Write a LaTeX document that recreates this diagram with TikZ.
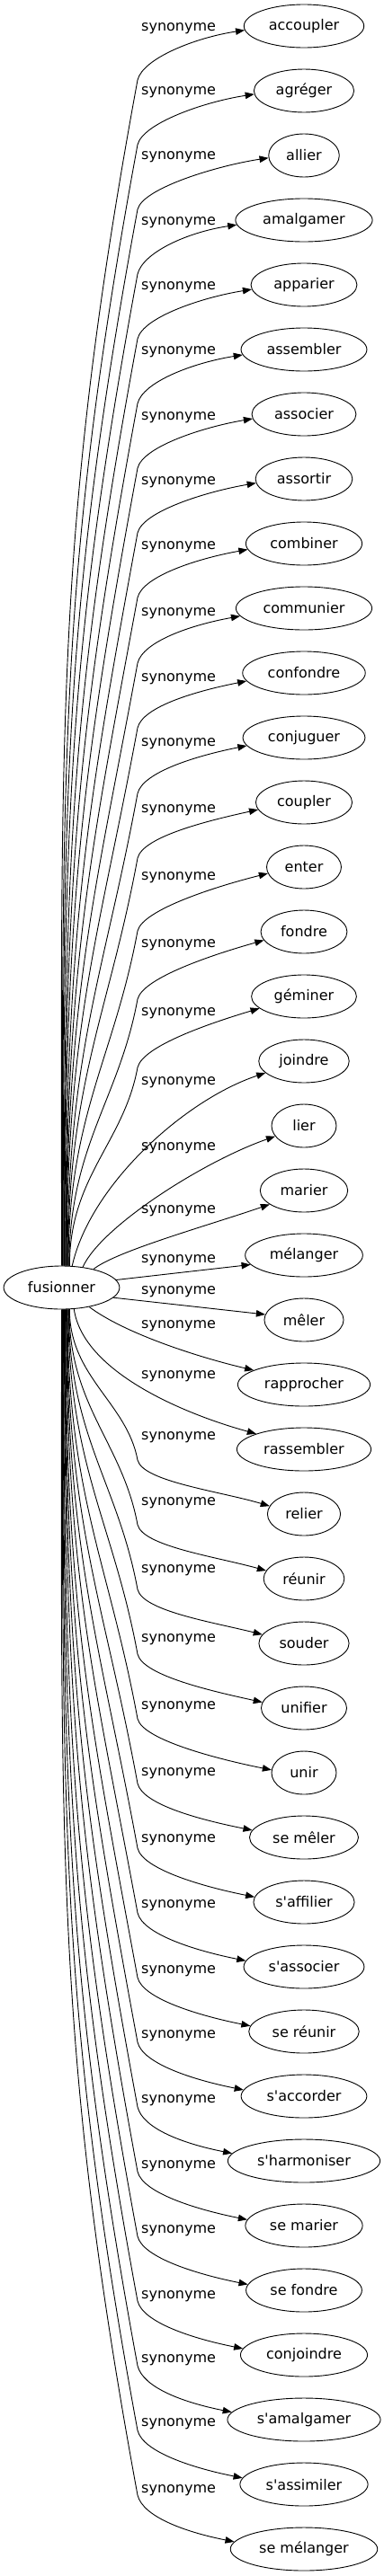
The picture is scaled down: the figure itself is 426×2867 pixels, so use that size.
\documentclass[tikz,border=0pt]{standalone}
\usepackage{fontspec}
\setmainfont{DejaVu Sans}
\usetikzlibrary{arrows.meta,shapes.geometric}
\newcommand\upedge[6]{%
  \pgfmathsetmacro\myd{1409-#3}%
  \draw[edge] (fus.#2) .. controls +(0,{-0.45*\myd}) and +({-0.07*\myd},{0.38*\myd}) .. (153,#3)
     .. controls +(6,-24) and +(-55,{55*#5}) .. (t#1.#4);
  \node[lab] (l#1) at (157,#6) {synonyme};
}
\newcommand\loedge[6]{%
  \pgfmathsetmacro\myd{#3-1457}%
  \draw[edge] (fus.#2) .. controls +(0,{0.45*\myd}) and +({-0.07*\myd},{-0.38*\myd}) .. (153,#3)
     .. controls +(6,24) and +(-55,{-55*#5}) .. (t#1.#4);
  \node[lab] (l#1) at (157,#6) {synonyme};
}
\begin{document}
\begin{tikzpicture}[x=1pt,y=-1pt,
  tnode/.style={draw, ellipse, line width=0.9pt, minimum width=72pt, minimum height=48pt,
                inner xsep=8pt, inner ysep=2pt, font=\fontsize{16}{19}\selectfont},
  lab/.style={anchor=west, inner sep=0pt, font=\fontsize{16}{19}\selectfont},
  edge/.style={line width=0.9pt, -{Triangle[length=10pt,width=7.5pt]}}]
\useasboundingbox (0,0) rectangle (426,2867);
\node[tnode] (fus) at (68.5,1433) {fusionner};
\foreach \w [count=\i] in {accoupler,agréger,allier,amalgamer,apparier,assembler,associer,assortir,
  combiner,communier,confondre,conjuguer,coupler,enter,fondre,géminer,joindre,lier,marier,mélanger,
  mêler,rapprocher,rassembler,relier,réunir,souder,unifier,unir,se mêler,s\textquotesingle affilier,
  s\textquotesingle associer,se réunir,s\textquotesingle accorder,s\textquotesingle harmoniser,se marier,
  se fondre,conjoindre,s\textquotesingle amalgamer,s\textquotesingle assimiler,se mélanger}
  {\node[tnode] (t\i) at (338,{29+72*(\i-1)}) {\w};}

\upedge{1}{90}{89}{184}{0.15}{32}
\upedge{2}{88.7}{161}{184}{0.15}{103}
\upedge{3}{87.4}{233}{184}{0.15}{175}
\upedge{4}{86.1}{305}{184}{0.15}{248}
\upedge{5}{84.8}{377}{185}{0.16}{320}
\upedge{6}{83.5}{449}{185}{0.16}{392}
\upedge{7}{82.2}{521}{185}{0.17}{465}
\upedge{8}{80.9}{593}{185}{0.17}{537}
\upedge{9}{79.6}{665}{186}{0.18}{609}
\upedge{10}{78.3}{738}{187}{0.18}{683}
\upedge{11}{77}{810}{188}{0.2}{756}
\upedge{12}{75.7}{883}{188}{0.2}{828}
\upedge{13}{74.4}{955}{189}{0.22}{902}
\upedge{14}{73.1}{1036}{190}{0.25}{977}
\upedge{15}{71.8}{1112}{192}{0.28}{1052}
\upedge{16}{70.5}{1188}{195}{0.3}{1128}

\draw[edge] (fus.64) .. controls +(20,-90) and +(-90,30) .. (t17.197);
\node[lab] (l17) at (157,1205) {synonyme};
\draw[edge] (fus.44) .. controls +(20,-45) and +(-80,28) .. (t18.200);
\node[lab] (l18) at (157,1278) {synonyme};
\draw[edge] (fus.30) .. controls +(25,-20) and +(-70,24) .. (t19.202);
\node[lab] (l19) at (157,1348) {synonyme};
\draw[edge] (fus.8) -- (t20.190);
\node[lab] (l20) at (157,1403) {synonyme};
\draw[edge] (fus.-11) -- (t21.172);
\node[lab] (l21) at (157,1438) {synonyme};
\draw[edge] (fus.-35) .. controls +(40,30) and +(-60,-14) .. (t22.164);
\node[lab] (l22) at (157,1476) {synonyme};
\draw[edge] (fus.-60) .. controls +(10,70) and +(-80,-22) .. (t23.162);
\node[lab] (l23) at (157,1532) {synonyme};

\loedge{24}{-70}{1625}{167}{0.3}{1600}
\loedge{25}{-71.25}{1697}{168}{0.28}{1673}
\loedge{26}{-72.5}{1769}{168}{0.25}{1748}
\loedge{27}{-73.75}{1841}{172}{0.22}{1825}
\loedge{28}{-75}{1913}{175}{0.2}{1900}
\loedge{29}{-76.25}{1985}{172}{0.2}{1974}
\loedge{30}{-77.5}{2057}{174}{0.2}{2048}
\loedge{31}{-78.75}{2129}{174}{0.2}{2121}
\loedge{32}{-80}{2201}{174}{0.2}{2194}
\loedge{33}{-81.25}{2273}{174}{0.2}{2266}
\loedge{34}{-82.5}{2345}{174}{0.2}{2338}
\loedge{35}{-83.75}{2417}{174}{0.2}{2411}
\loedge{36}{-85}{2489}{174}{0.2}{2483}
\loedge{37}{-86.25}{2561}{174}{0.2}{2556}
\loedge{38}{-87.5}{2633}{174}{0.2}{2627}
\loedge{39}{-88.75}{2705}{174}{0.2}{2698}
\loedge{40}{-90}{2777}{174}{0.2}{2772}
\end{tikzpicture}
\end{document}
